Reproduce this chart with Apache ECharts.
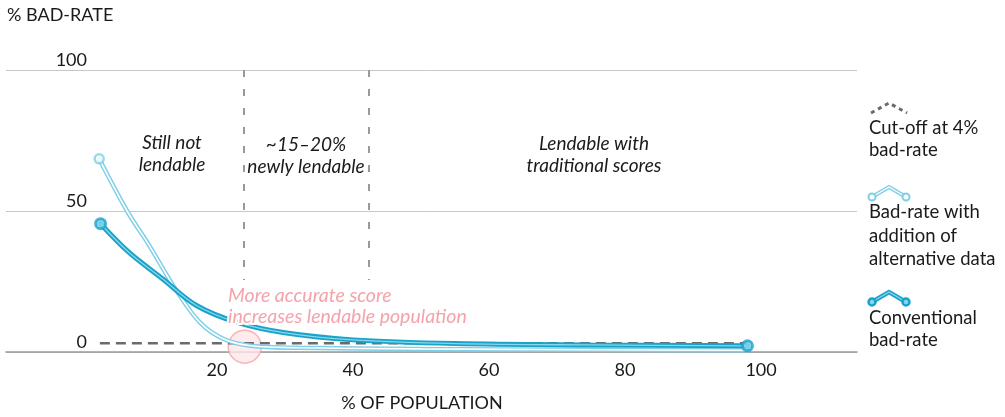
<!DOCTYPE html>
<html>
<head>
<meta charset="utf-8">
<script src="https://cdn.jsdelivr.net/npm/echarts@6/dist/echarts.min.js"></script>
<style>
  html, body { margin: 0; padding: 0; background: #fff; }
  #chart { width: 1005px; height: 417px; }
</style>
</head>
<body>
<div id="chart"></div>
<script>
// % of population (x) and % bad-rate (y)
const popAlt = [2.7, 6.8, 10, 14, 17.5, 21, 25, 32, 50, 75, 98]
const badAlt = [68.5, 50, 38, 22, 10.5, 4.6, 2.2, 1.5, 1.1, 0.8, 0.6]

const popConv = [2.9, 7, 12, 17, 23, 30, 40, 55, 75, 98]
const badConv = [45.5, 35.5, 26, 16.5, 10.5, 6.8, 4.3, 3.0, 2.5, 2.2]

const cutoffPop = [2.8, 98]
const cutoffRate = 3.1

const zoneEdges = [24, 42.3]
const highlight = [24.1, 1.9]
const xTicks = [20, 40, 60, 80, 100]

const DARK = "#1aa3c9"
const DARK_IN = "#86d6ec"
const LIGHT = "#7fcfe6"
const PINK = "#f4a3ab"
const FONT = "Lato"

const pairs = (xs, ys) => xs.map((x, i) => [x, ys[i]])
const altData = pairs(popAlt, badAlt)
const convData = pairs(popConv, badConv)

function curve(name, data, color, width, z) {
	return {
		name: name,
		type: "line",
		data: data,
		smooth: 0.35,
		showSymbol: false,
		silent: true,
		z: z,
		lineStyle: { color: color, width: width, cap: "round" },
	}
}

const option = {
	backgroundColor: "#fff",
	animation: false,
	textStyle: { fontFamily: FONT },
	grid: { left: 6, right: 148, top: 70, bottom: 65 },
	xAxis: {
		type: "value",
		min: -11,
		max: 114.1,
		splitLine: { show: false },
		axisTick: { show: false },
		axisLine: { lineStyle: { color: "#9a9a9a", width: 1.5 } },
		axisLabel: {
			customValues: xTicks,
			color: "#1a1a1a",
			fontSize: 18,
			fontFamily: FONT,
			margin: 9,
		},
	},
	yAxis: {
		type: "value",
		min: 0,
		max: 100,
		interval: 50,
		axisLine: { show: false },
		axisTick: { show: false },
		splitLine: { lineStyle: { color: "#c8c8c8", width: 1 } },
		axisLabel: {
			inside: true,
			margin: 81,
			align: "right",
			verticalAlign: "bottom",
			padding: [0, 0, 1, 0],
			color: "#1a1a1a",
			fontSize: 18,
			fontFamily: FONT,
		},
	},
	series: [
		{
			name: "Cut-off",
			type: "line",
			data: cutoffPop.map((x) => [x, cutoffRate]),
			showSymbol: false,
			silent: true,
			z: 2,
			lineStyle: { color: "#6b6b6b", width: 2.5, type: [10, 6] },
			markLine: {
				silent: true,
				symbol: "none",
				label: { show: false },
				lineStyle: { color: "#9a9a9a", width: 2, type: [7, 12] },
				data: zoneEdges.map((x) => [{ coord: [x, 100] }, { coord: [x, 25.5] }]),
			},
		},
		{
			name: "highlight",
			type: "scatter",
			data: [highlight],
			symbolSize: 33,
			silent: true,
			z: 1,
			itemStyle: { color: "#fce6e8", borderColor: PINK, borderWidth: 1.5 },
		},
		curve("alt-outer", altData, LIGHT, 4.5, 3),
		curve("alt-inner", altData, "#ffffff", 1.6, 4),
		curve("conv-outer", convData, DARK, 5, 5),
		curve("conv-inner", convData, DARK_IN, 1.3, 6),
		{
			name: "alt-start",
			type: "scatter",
			data: [altData[0]],
			symbolSize: 9,
			silent: true,
			z: 7,
			itemStyle: { color: "#fff", borderColor: LIGHT, borderWidth: 2.5 },
		},
		{
			name: "conv-ends",
			type: "scatter",
			data: [convData[0], convData[convData.length - 1]],
			symbolSize: 10,
			silent: true,
			z: 7,
			itemStyle: { color: DARK_IN, borderColor: DARK, borderWidth: 3 },
		},
	],
	graphic: [
		{ type: "text", left: 7, top: 6, style: { text: "% BAD-RATE", font: "18px " + FONT, fill: "#1a1a1a" } },
		{ type: "text", x: 422, y: 403, style: { text: "% OF POPULATION", font: "18px " + FONT, fill: "#1a1a1a", align: "center", verticalAlign: "middle" } },

		{ type: "text", x: 172, y: 154, style: { text: "Still not\nlendable", font: "italic 19px " + FONT, fill: "#1a1a1a", align: "center", verticalAlign: "middle", lineHeight: 22 } },
		{ type: "text", x: 306, y: 156, style: { text: "~15–20%\nnewly lendable", font: "italic 19px " + FONT, fill: "#1a1a1a", align: "center", verticalAlign: "middle", lineHeight: 22 } },
		{ type: "text", x: 594, y: 155, style: { text: "Lendable with\ntraditional scores", font: "italic 19px " + FONT, fill: "#1a1a1a", align: "center", verticalAlign: "middle", lineHeight: 22 } },
		{ type: "text", x: 228, y: 306, z: 20, style: { text: "More accurate score\nincreases lendable population", font: "italic 19.5px " + FONT, fill: PINK, align: "left", verticalAlign: "middle", lineHeight: 21, stroke: "#fff", lineWidth: 4 } },

		// legend
		{ type: "polyline", shape: { points: [[871, 113], [889, 103], [907, 113]] }, style: { stroke: "#6b6b6b", lineWidth: 3, fill: null, lineDash: [4, 4] } },
		{ type: "text", x: 869, y: 139, style: { text: "Cut-off at 4%\nbad-rate", font: "18.5px " + FONT, fill: "#1a1a1a", verticalAlign: "middle", lineHeight: 22 } },

		{ type: "polyline", shape: { points: [[872, 197], [889, 187], [906, 197]] }, style: { stroke: LIGHT, lineWidth: 4, fill: null } },
		{ type: "polyline", shape: { points: [[872, 197], [889, 187], [906, 197]] }, style: { stroke: "#fff", lineWidth: 1.4, fill: null } },
		{ type: "circle", shape: { cx: 872, cy: 197, r: 3.5 }, style: { fill: "#fff", stroke: LIGHT, lineWidth: 2 } },
		{ type: "circle", shape: { cx: 906, cy: 197, r: 3.5 }, style: { fill: "#fff", stroke: LIGHT, lineWidth: 2 } },
		{ type: "text", x: 869, y: 236, style: { text: "Bad-rate with\naddition of\nalternative data", font: "18.5px " + FONT, fill: "#1a1a1a", verticalAlign: "middle", lineHeight: 23.5 } },

		{ type: "polyline", shape: { points: [[872, 302], [889, 292], [906, 302]] }, style: { stroke: DARK, lineWidth: 4.5, fill: null } },
		{ type: "polyline", shape: { points: [[872, 302], [889, 292], [906, 302]] }, style: { stroke: DARK_IN, lineWidth: 1.2, fill: null } },
		{ type: "circle", shape: { cx: 872, cy: 302, r: 3.5 }, style: { fill: DARK_IN, stroke: DARK, lineWidth: 2.5 } },
		{ type: "circle", shape: { cx: 906, cy: 302, r: 3.5 }, style: { fill: DARK_IN, stroke: DARK, lineWidth: 2.5 } },
		{ type: "text", x: 869, y: 329, style: { text: "Conventional\nbad-rate", font: "18.5px " + FONT, fill: "#1a1a1a", verticalAlign: "middle", lineHeight: 22 } },
	],
}

const chart = echarts.init(document.getElementById("chart"), null, { renderer: "canvas" })
chart.setOption(option)
</script>
</body>
</html>
